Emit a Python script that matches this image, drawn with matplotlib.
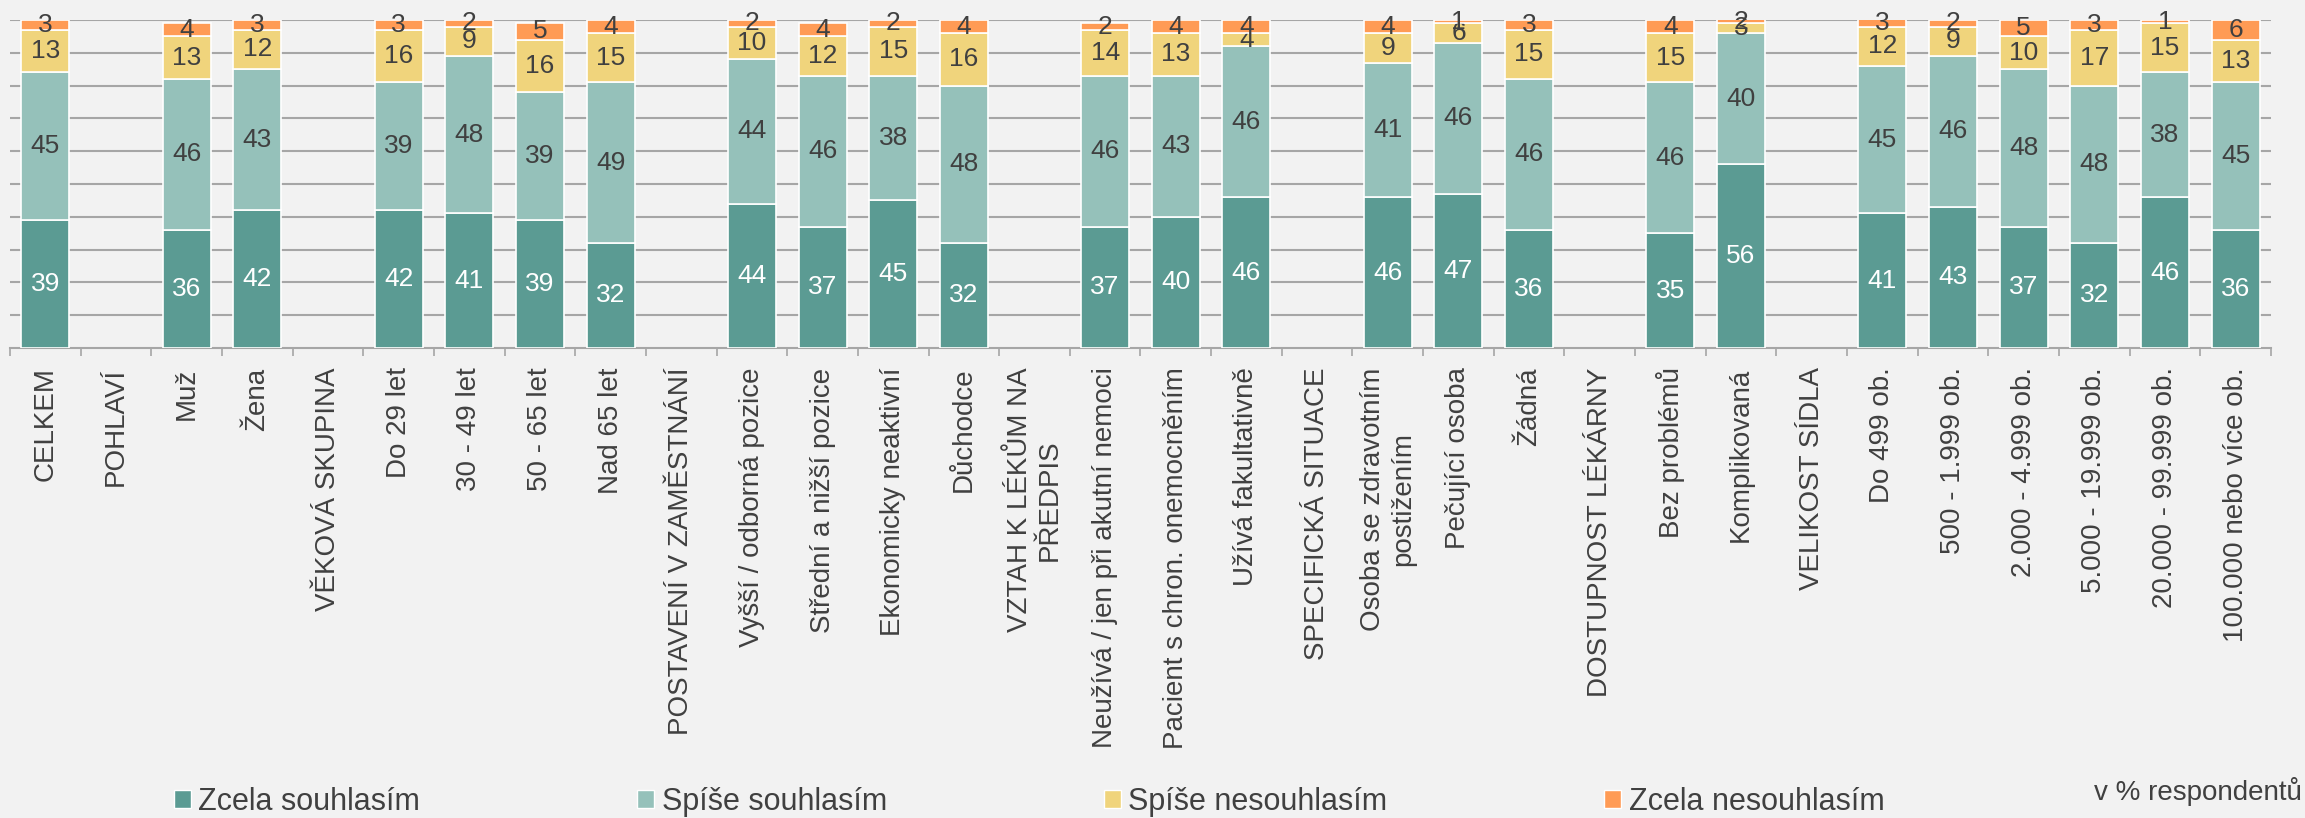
import numpy as np
import matplotlib
matplotlib.use("Agg")
import matplotlib.pyplot as plt
from matplotlib.patches import Patch

plt.rcParams["font.family"] = ["Liberation Sans", "DejaVu Sans"]

categories = [
    "CELKEM", "POHLAVÍ", "Muž", "Žena", "VĚKOVÁ SKUPINA",
    "Do 29 let", "30 - 49 let", "50 - 65 let", "Nad 65 let",
    "POSTAVENÍ V ZAMĚSTNÁNÍ", "Vyšší / odborná pozice", "Střední a nižší pozice",
    "Ekonomicky neaktivní", "Důchodce", "VZTAH K LÉKŮM NA\nPŘEDPIS",
    "Neužívá / jen při akutní nemoci", "Pacient s chron. onemocněním",
    "Užívá fakultativně", "SPECIFICKÁ SITUACE", "Osoba se zdravotním\npostižením",
    "Pečující osoba", "Žádná", "DOSTUPNOST LÉKÁRNY", "Bez problémů",
    "Komplikovaná", "VELIKOST SÍDLA", "Do 499 ob.", "500 - 1.999 ob.",
    "2.000 - 4.999 ob.", "5.000 - 19.999 ob.", "20.000 - 99.999 ob.",
    "100.000 nebo více ob.",
]

# None = section header (no bar)
zcela_souhlasim = [39, None, 36, 42, None, 42, 41, 39, 32, None, 44, 37, 45, 32, None,
                   37, 40, 46, None, 46, 47, 36, None, 35, 56, None, 41, 43, 37, 32, 46, 36]
spise_souhlasim = [45, None, 46, 43, None, 39, 48, 39, 49, None, 44, 46, 38, 48, None,
                   46, 43, 46, None, 41, 46, 46, None, 46, 40, None, 45, 46, 48, 48, 38, 45]
spise_nesouhlasim = [13, None, 13, 12, None, 16, 9, 16, 15, None, 10, 12, 15, 16, None,
                     14, 13, 4, None, 9, 6, 15, None, 15, 3, None, 12, 9, 10, 17, 15, 13]
zcela_nesouhlasim = [3, None, 4, 3, None, 3, 2, 5, 4, None, 2, 4, 2, 4, None,
                     2, 4, 4, None, 4, 1, 3, None, 4, 2, None, 3, 2, 5, 3, 1, 6]

series_names = ["Zcela souhlasím", "Spíše souhlasím", "Spíše nesouhlasím", "Zcela nesouhlasím"]
colors = ["#5B9B93", "#95C1BA", "#F0D47C", "#FF9B55"]
label_colors = ["white", "#404040", "#404040", "#404040"]

text_color = "#404040"
grid_color = "#A6A6A6"
bg = "#F2F2F2"

fig = plt.figure(figsize=(23.05, 8.18), dpi=100, facecolor=bg)
ax = fig.add_axes([0.00434, 0.5746, 0.9809, 0.401])
ax.set_facecolor(bg)

x = np.arange(len(categories))
has_data = np.array([a is not None for a in zcela_souhlasim])
xd = x[has_data]
bottom = np.zeros(len(xd))
all_series = [zcela_souhlasim, spise_souhlasim, spise_nesouhlasim, zcela_nesouhlasim]

for vals, name, col, lcol in zip(all_series, series_names, colors, label_colors):
    v = np.array([a for a in vals if a is not None], dtype=float)
    bars = ax.bar(xd, v, width=0.68, bottom=bottom, color=col, edgecolor="white",
                  linewidth=1.2, zorder=3, label=name)
    ax.bar_label(bars, labels=[str(int(a)) for a in v], label_type="center",
                 color=lcol, fontsize=19)
    bottom += v

ax.set_xlim(-0.5, len(categories) - 0.5)
ax.set_ylim(0, 100)
ax.set_yticks(np.arange(10, 101, 10))
ax.yaxis.grid(True, color=grid_color, linewidth=1.5, zorder=0)
ax.tick_params(axis="y", left=False, labelleft=False)

ax.set_xticks(x)
ax.set_xticklabels(categories, rotation=90, fontsize=20, color=text_color,
                   va="top", ha="center", multialignment="center")
ax.set_xticks(np.arange(-0.5, len(categories), 1), minor=True)
ax.tick_params(axis="x", which="major", length=0, pad=14)
ax.tick_params(axis="x", which="minor", length=6, width=1.2, color=grid_color)

for s in ["top", "left", "right"]:
    ax.spines[s].set_visible(False)
ax.spines["bottom"].set_color(grid_color)
ax.spines["bottom"].set_linewidth(1.5)

handles = [Patch(facecolor=c, edgecolor="white", linewidth=1) for c in colors]
fig.legend(handles, series_names, loc="center left", bbox_to_anchor=(0.0755, 0.02),
           ncol=4, frameon=False, fontsize=22, handlelength=0.55, handleheight=0.55,
           handletextpad=0.25, columnspacing=7.1, borderpad=0, borderaxespad=0,
           labelcolor=text_color)

fig.text(0.9985, 0.032, "v % respondentů", ha="right", va="center", fontsize=20,
         color=text_color)

fig.savefig("out.png", dpi=100, facecolor=bg)
